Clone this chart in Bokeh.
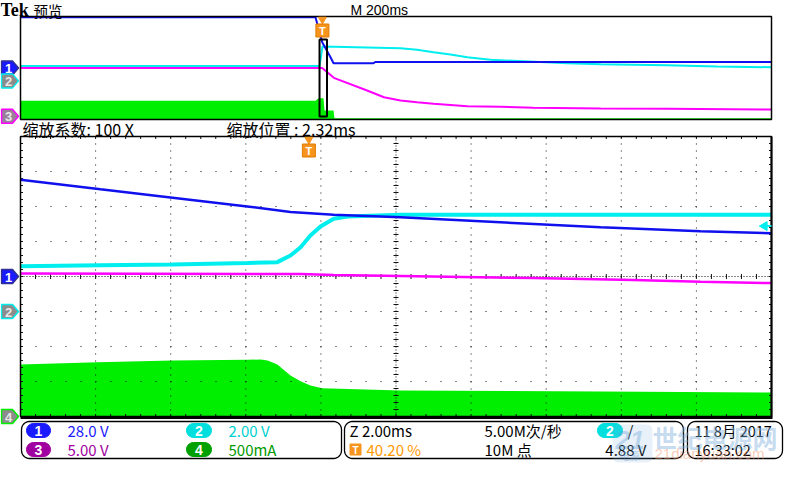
import numpy as np
from bokeh.plotting import figure
from bokeh.models import Range1d
from bokeh.core.properties import value
from bokeh.embed import file_html
from bokeh.resources import INLINE

# ---------------- data ----------------
# zoomed window (2.00 ms/div), time in ms relative to the trigger
zoom_ch1_t = [-7.68, -5.55, -3.63, -1.64, -0.49, 0.66, 2.44, 5.10, 7.77, 10.43, 12.32]
zoom_ch1_v = [77.4, 69.8, 63.0, 56.0, 51.6, 49.4, 47.4, 43.4, 39.4, 36.2, 34.6]
zoom_ch2_t = [-7.68, -5.55, -3.63, -1.64, -0.84, -0.49, -0.22, 0.04, 0.31, 0.66, 1.03, 2.44, 12.32]
zoom_ch2_v = [2.59, 2.64, 2.69, 2.77, 2.82, 3.20, 3.67, 4.34, 4.86, 5.30, 5.43, 5.53, 5.53]
zoom_ch3_t = [-7.68, -0.22, 0.66, 2.44, 5.98, 8.64, 10.43, 12.32]
zoom_ch3_v = [19.19, 19.10, 18.96, 18.81, 18.53, 18.24, 18.00, 17.81]
zoom_ch4_t = [-7.68, -5.63, -3.63, -1.64, -1.29, -1.10, -0.84, -0.49, -0.22, 0.04, 0.36, 2.44, 7.77, 12.32]
zoom_ch4_a = [0.743, 0.776, 0.800, 0.810, 0.814, 0.800, 0.743, 0.586, 0.504, 0.443, 0.404, 0.371, 0.357, 0.343]

# overview record (200 ms/div), time in ms relative to the trigger
ov_ch1_t = [-804, -18.4, -0.5, 21.6, 29.6, 136, 141, 1196]
ov_ch1_v = [110.5, 110.5, 56.1, 23.5, 10.4, 10.4, 13.0, 13.0]
ov_ch2_t = [-804, -7.7, 0.3, 208, 252, 296, 341, 386, 448, 509, 652, 741, 918, 1051, 1196]
ov_ch2_v = [2.30, 2.30, 5.34, 5.08, 4.83, 4.45, 4.10, 3.68, 3.27, 3.12, 2.75, 2.59, 2.43, 2.23, 2.12]
ov_ch3_t = [-804, -0.5, 30.4, 119, 164, 208, 252, 296, 386, 474, 562, 741, 918, 1196]
ov_ch3_v = [18.75, 18.75, 14.94, 10.01, 7.41, 6.13, 5.47, 4.85, 3.92, 3.68, 3.29, 3.02, 2.91, 2.63]
ov_ch4_t = [-804, -18.4, -10.4, 2.9, 5.6, 29.6, 32.2, 1196]
ov_ch4_a = [0.726, 0.726, 0.827, 0.827, 0.35, 0.35, 0.05, 0.05]

# channel / acquisition settings
ch_labels = ["1", "2", "3", "4"]
ch_scale = [28.0, 2.00, 5.00, 0.500]          # units per division
ch_scale_text = ["28.0 V", "2.00 V", "5.00 V", "500mA"]
ch_ground_div = [0.0, -1.0, -3.75, -4.0]      # ground level, divisions from centre
main_tb_ms = 2.00
overview_tb_ms = 200
zoom_factor = 100
zoom_pos_ms = 2.32
trig_pos_pct = 40.20
trig_level_v = 4.88
sample_rate = "5.00M次/秒"
record_len = "10M 点"
date_text = "11 8月 2017"
time_text = "16:33:02"

# ---------------- layout (screen pixels) ----------------
W, H = 784, 464
MX0, MX1, MY0, MY1 = 20, 771, 136, 416
OX0, OX1, OY0, OY1 = 20, 771, 16, 119
NX, NY = 10, 8
MDX = (MX1 - MX0) / NX
MDY = (MY1 - MY0) / NY
MCY = (MY0 + MY1) / 2
ODY = (OY1 - OY0) / NY
OCY = (OY0 + OY1) / 2

COL = ["#1010ee", "#00eeee", "#ff00ff", "#00ee00"]
TXTCOL = ["#2020ff", "#00d0d0", "#a000a0", "#009900"]
PILL = ["#1a1aff", "#00dede", "#a000a0", "#00a000"]
ORANGE = "#f7941d"
CJK = value("Noto Sans CJK SC")

p = figure(width=W, height=H, x_range=Range1d(0, W), y_range=Range1d(H, 0),
           x_axis_type=None, y_axis_type=None, output_backend="svg",
           toolbar_location=None, min_border=0, outline_line_color=None,
           background_fill_color="white", border_fill_color="white")


def xr(px_a, v_a, px_b, v_b):
    k = (v_b - v_a) / (px_b - px_a)
    return Range1d(start=v_a - k * px_a, end=v_a + k * (W - px_a))


def yr(px_a, v_a, px_b, v_b):
    k = (v_b - v_a) / (px_b - px_a)
    return Range1d(start=v_a + k * (H - px_a), end=v_a - k * px_a)


p.extra_x_ranges = {
    "zt": xr(MX0, zoom_pos_ms - NX / 2 * main_tb_ms, MX1, zoom_pos_ms + NX / 2 * main_tb_ms),
    "ot": xr(OX0, -trig_pos_pct / 100 * NX * overview_tb_ms,
             OX1, (1 - trig_pos_pct / 100) * NX * overview_tb_ms),
}
yrs = {}
for i in range(4):
    s, g = ch_scale[i], ch_ground_div[i]
    yrs[f"z{i}"] = yr(MCY, -g * s, MCY - MDY, (1 - g) * s)
    yrs[f"o{i}"] = yr(OCY, -g * s, OCY - ODY, (1 - g) * s)
p.extra_y_ranges = yrs


def txt(x, y, s, color="black", size="15px", font=CJK, align="left", style="normal",
        baseline="middle", **kw):
    p.text(x=[x], y=[y], text=[s], text_color=color, text_font=font, text_font_size=size,
           text_align=align, text_baseline=baseline, text_font_style=style, **kw)


def rrect(x0, y0, x1, y1, r, n=8):
    xs, ys = [], []
    for cx, cy, a0 in [(x1 - r, y0 + r, -np.pi / 2), (x1 - r, y1 - r, 0.0),
                       (x0 + r, y1 - r, np.pi / 2), (x0 + r, y0 + r, np.pi)]:
        a = np.linspace(a0, a0 + np.pi / 2, n)
        xs += list(cx + r * np.cos(a))
        ys += list(cy + r * np.sin(a))
    return xs, ys


# ---------------- overview ----------------
p.varea(x=ov_ch4_t, y1=0, y2=ov_ch4_a, x_range_name="ot", y_range_name="o3", fill_color=COL[3])
p.line(ov_ch3_t, ov_ch3_v, x_range_name="ot", y_range_name="o2", line_color=COL[2], line_width=2)
p.line(ov_ch2_t, ov_ch2_v, x_range_name="ot", y_range_name="o1", line_color=COL[1], line_width=2)
p.line(ov_ch1_t, ov_ch1_v, x_range_name="ot", y_range_name="o0", line_color=COL[0], line_width=2)
p.quad(left=OX0, right=OX1, top=OY0, bottom=OY1, fill_color=None, line_color="black", line_width=1.5)
p.quad(left=[zoom_pos_ms - NX / 2 * main_tb_ms], right=[zoom_pos_ms + NX / 2 * main_tb_ms],
       top=39, bottom=116, x_range_name="ot", fill_color=None, line_color="black", line_width=2)
p.scatter(x=[0], y=[19], x_range_name="ot", marker="inverted_triangle", size=8,
          fill_color=ORANGE, line_color=ORANGE)
p.scatter(x=[0], y=[30], x_range_name="ot", marker="square", size=13,
          fill_color=ORANGE, line_color="#e07b00")
p.text(x=[0], y=[30.5], text=["T"], x_range_name="ot", text_color="white", text_align="center",
       text_baseline="middle", text_font=value("Liberation Sans"), text_font_size="11px",
       text_font_style="bold")

# ---------------- zoomed graticule ----------------
p.varea(x=zoom_ch4_t, y1=0, y2=zoom_ch4_a, x_range_name="zt", y_range_name="z3", fill_color=COL[3])

gx = [MX0 + k * MDX for k in range(1, NX) if k != NX // 2]
gy = [MY0 + k * MDY for k in range(1, NY) if k != NY // 2]
GC = "#111111"
p.segment(x0=gx, y0=MY0, x1=gx, y1=MY1, line_color=GC, line_width=1, line_dash="1 6")
p.segment(x0=MX0, y0=gy, x1=MX1, y1=gy, line_color=GC, line_width=1, line_dash="1 14")
cx = MX0 + NX // 2 * MDX
p.segment(x0=[cx], y0=MY0, x1=[cx], y1=MY1, line_color=GC, line_width=1, line_dash="1 2")
p.segment(x0=MX0, y0=[MCY], x1=MX1, y1=[MCY], line_color=GC, line_width=1, line_dash="1 2")
mx = np.array([MX0 + j * MDX / 5 for j in range(1, NX * 5)])
my = np.array([MY0 + j * MDY / 5 for j in range(1, NY * 5)])
p.segment(x0=mx, y0=MCY - 2.5, x1=mx, y1=MCY + 2.5, line_color=GC, line_width=1)
p.segment(x0=cx - 2.5, y0=my, x1=cx + 2.5, y1=my, line_color=GC, line_width=1)
p.segment(x0=mx, y0=MY0, x1=mx, y1=MY0 + 2.5, line_color=GC, line_width=1)
p.segment(x0=mx, y0=MY1 - 2.5, x1=mx, y1=MY1, line_color=GC, line_width=1)
p.segment(x0=MX0, y0=my, x1=MX0 + 2.5, y1=my, line_color=GC, line_width=1)
p.segment(x0=MX1 - 2.5, y0=my, x1=MX1, y1=my, line_color=GC, line_width=1)

p.line(zoom_ch3_t, zoom_ch3_v, x_range_name="zt", y_range_name="z2", line_color=COL[2], line_width=2.5)
p.line(zoom_ch2_t, zoom_ch2_v, x_range_name="zt", y_range_name="z1", line_color=COL[1], line_width=4)
p.line(zoom_ch1_t, zoom_ch1_v, x_range_name="zt", y_range_name="z0", line_color=COL[0], line_width=2.5)

p.quad(left=MX0, right=MX1, top=MY0, bottom=MY1, fill_color=None, line_color="black", line_width=1.5)
p.segment(x0=[MX0], y0=[MY1 + 1], x1=[MX1 + 1], y1=[MY1 + 1], line_color="black", line_width=3)
p.segment(x0=[MX1], y0=[MY0], x1=[MX1], y1=[MY1], line_color="black", line_width=2)

# trigger marker and trigger level
p.scatter(x=[0], y=[139], x_range_name="zt", marker="inverted_triangle", size=8,
          fill_color=ORANGE, line_color=ORANGE)
p.scatter(x=[0], y=[150], x_range_name="zt", marker="square", size=13,
          fill_color=ORANGE, line_color="#e07b00")
p.text(x=[0], y=[150.5], text=["T"], x_range_name="zt", text_color="white", text_align="center",
       text_baseline="middle", text_font=value("Liberation Sans"), text_font_size="11px",
       text_font_style="bold")
p.scatter(x=[764], y=[trig_level_v], y_range_name="z1", marker="triangle", angle=np.pi / 2,
          size=9, fill_color=COL[1], line_color=COL[1])
p.segment(x0=[764], y0=[trig_level_v], x1=[MX1], y1=[trig_level_v], y_range_name="z1",
          line_color=COL[1], line_width=2)


# ---------------- channel ground markers ----------------
def chan_marker(cy, i, selected):
    xs = [1, 12, 18, 12, 1]
    ys = [cy - 7, cy - 7, cy, cy + 7, cy + 7]
    fill = PILL[i] if selected else ("#9a7f9a" if i == 2 else "#8c8c8c")
    edge = "#303090" if selected else COL[i]
    p.patch(xs, ys, fill_color=fill, line_color=edge, line_width=1.5)
    p.text(x=[8], y=[cy + 0.5], text=[ch_labels[i]], text_color="white" if selected else "#e8e8e8",
           text_align="center", text_baseline="middle", text_font=value("Liberation Sans"),
           text_font_size="13px", text_font_style="bold")


chan_marker(OCY - ch_ground_div[0] * ODY, 0, True)
chan_marker(OCY - ch_ground_div[1] * ODY, 1, False)
chan_marker(OCY - ch_ground_div[2] * ODY, 2, False)
chan_marker(MCY - ch_ground_div[0] * MDY, 0, True)
chan_marker(MCY - ch_ground_div[1] * MDY, 1, False)
chan_marker(MCY - ch_ground_div[3] * MDY, 3, False)

# ---------------- header texts ----------------
txt(0, 9.5, "Tek", font=value("Liberation Serif"), size="18px", style="bold")
txt(33, 10, "预览", size="14.5px")
txt(350, 9, f"M {overview_tb_ms}ms", size="14px", font=value("Liberation Sans"))
txt(22, 128, f"缩放系数: {zoom_factor} X", size="16px")
txt(226, 128, f"缩放位置 : {zoom_pos_ms:.2f}ms", size="16px")

# ---------------- status bar ----------------
R1, R2 = 430, 449
for x0, x1 in [(21, 341), (344, 683), (687, 782)]:
    bx, by = rrect(x0, 421, x1, 458, 8)
    p.patch(bx, by, fill_color=None, line_color="black", line_width=1.3)

pills = [(26, 50, R1), (186, 211, R1), (26, 50, R2), (186, 211, R2)]
for i, (x0, x1, yc) in enumerate(pills):
    bx, by = rrect(x0, yc - 7, x1, yc + 7, 7)
    p.patch(bx, by, fill_color=PILL[i], line_color=PILL[i])
    txt((x0 + x1) / 2, yc + 0.5, ch_labels[i], color="white", size="14px",
        font=value("Liberation Sans"), align="center", style="bold")
    txt(x1 + 17, yc, ch_scale_text[i], color=TXTCOL[i], size="15px")

txt(349, R1, f"Z {main_tb_ms:.2f}ms", size="15px")
p.scatter(x=[355], y=[R2], marker="square", size=11, fill_color=ORANGE, line_color=ORANGE)
txt(355, R2 + 0.5, "T", color="white", size="10px", font=value("Liberation Sans"),
    align="center", style="bold")
txt(366, R2, f"{trig_pos_pct:.2f} %", color="#ff9900", size="15px")
txt(484, R1, sample_rate, size="15px")
txt(484, R2, record_len, size="15px")
bx, by = rrect(597, R1 - 7, 622, R1 + 7, 7)
p.patch(bx, by, fill_color=PILL[1], line_color=PILL[1])
txt(609.5, R1 + 0.5, "2", color="white", size="14px", font=value("Liberation Sans"),
    align="center", style="bold")
txt(627, R1, "/", size="15px")
txt(646, R2, f"{trig_level_v:.2f} V", size="15px", align="right")
txt(694, R1, date_text, size="14.5px")
txt(694, R2, time_text, size="14.5px")

# faint watermark
bx, by = rrect(612, 424, 652, 462, 6)
p.patch(bx, by, fill_color="#7fb0dc", fill_alpha=0.18, line_color=None)
txt(615, 439, "21", color="#5f9fd8", size="26px", font=value("Liberation Sans"),
    style="bold italic", text_alpha=0.35)
txt(619, 455, "电源", color="#5f9fd8", size="10px", text_alpha=0.45)
txt(652, 436, "世纪电源网", color="#7fb0dc", size="25px", style="bold", text_alpha=0.45)
txt(654, 453, "21dianyuan.com", color="#f08c64", size="15px",
    font=value("Liberation Sans"), text_alpha=0.45)

open("out.html", "w").write(file_html(p, INLINE))
